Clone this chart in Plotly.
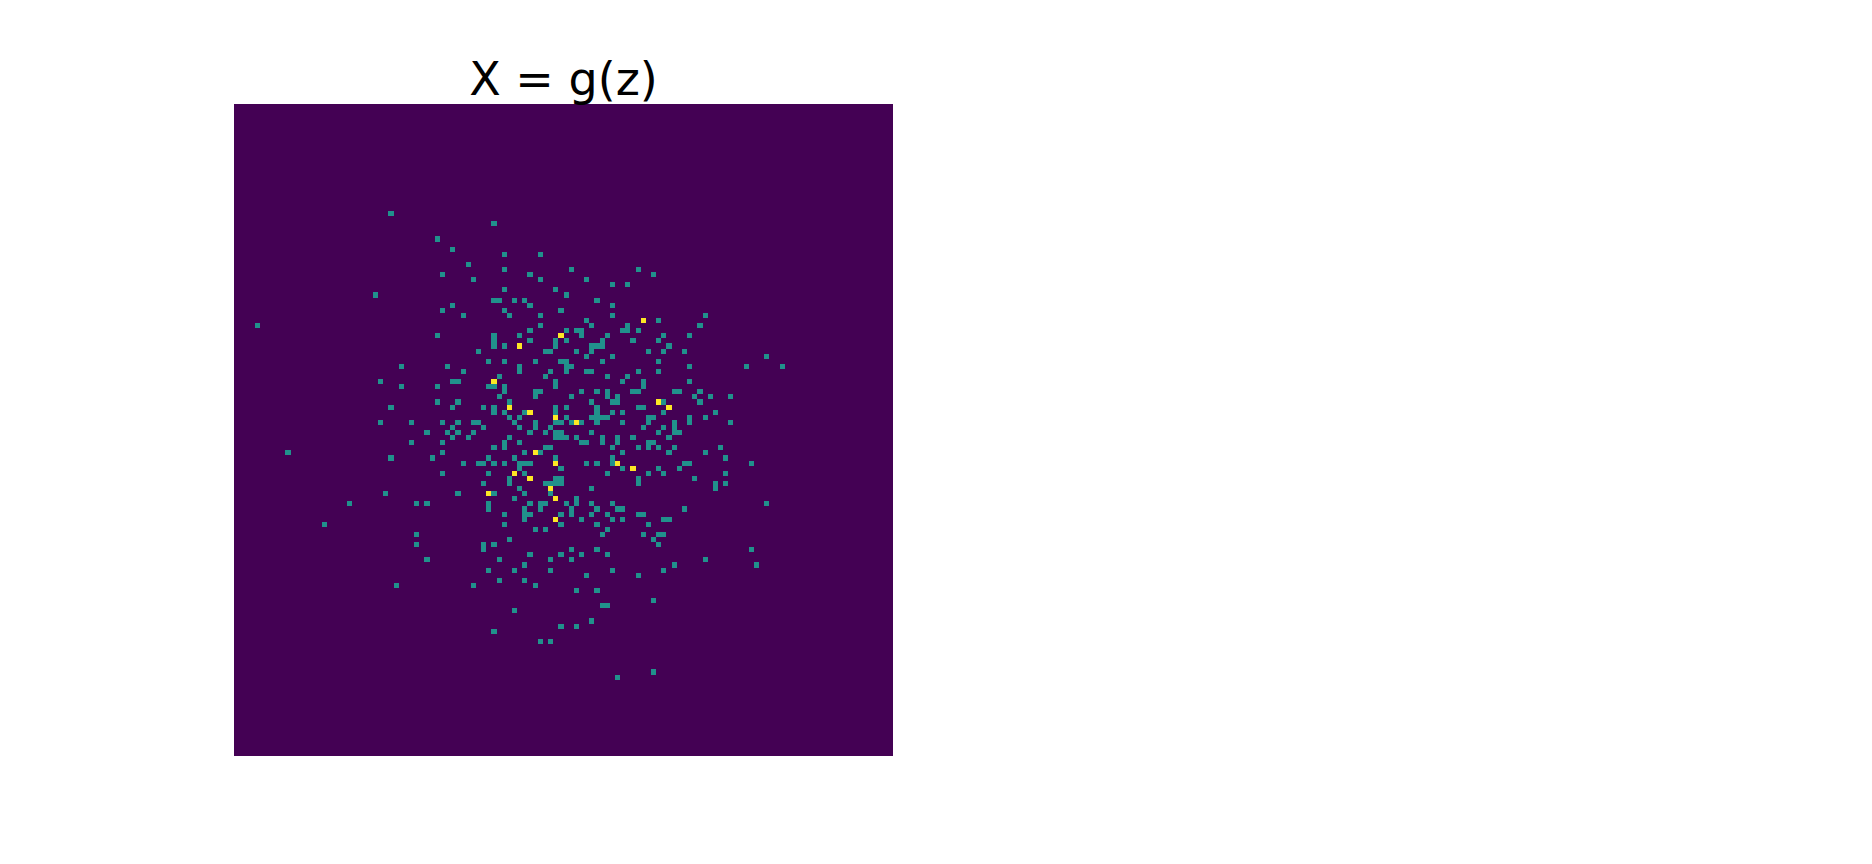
import plotly.graph_objects as go

GRID_SIZE = 128
TITLE = "X = g(z)"

# row index -> columns holding the value 1
cells_value_one = {
    21: [30], 23: [50], 26: [39], 28: [42], 29: [52, 59], 31: [45],
    32: [52, 65, 78], 33: [40, 57, 81], 34: [46, 59, 68], 35: [73, 76],
    36: [52, 62], 37: [27, 64], 38: [50, 51, 54, 56, 70], 39: [42, 57, 73],
    40: [40, 52, 63], 41: [44, 53, 59, 73, 91], 42: [68, 82],
    43: [4, 59, 69, 76, 90], 44: [57, 64, 66, 67, 75, 76, 78],
    45: [39, 50, 55, 67, 72, 83, 88], 46: [50, 57, 62, 64, 71, 77, 82],
    47: [50, 52, 62, 69, 70, 71, 84], 48: [47, 60, 61, 66, 69, 80, 83, 87],
    49: [68, 73, 103], 50: [49, 52, 58, 63, 64, 71, 82],
    51: [32, 41, 55, 64, 65, 88, 99, 106], 52: [44, 55, 61, 64, 68, 69, 78, 82],
    53: [51, 60, 72, 76], 54: [28, 42, 43, 62, 75, 79, 88],
    55: [32, 39, 49, 50, 52, 62, 79],
    56: [52, 58, 59, 67, 70, 72, 77, 78, 85, 86, 90],
    57: [51, 58, 65, 72, 74, 89, 92, 96], 58: [39, 43, 53, 69, 73, 74, 83, 90],
    59: [30, 42, 48, 50, 62, 64, 70, 78, 79],
    60: [50, 52, 56, 62, 70, 73, 75, 83, 93],
    61: [53, 55, 64, 69, 70, 71, 72, 80, 81, 88, 91],
    62: [28, 34, 40, 43, 46, 47, 54, 58, 62, 63, 65, 67, 70, 75, 80, 85, 88, 96],
    63: [42, 48, 55, 58, 61, 79, 83, 85],
    64: [37, 41, 43, 46, 57, 60, 62, 63, 69, 82, 85, 86],
    65: [42, 45, 53, 62, 63, 64, 66, 71, 74, 77, 84],
    66: [34, 40, 52, 55, 67, 68, 71, 74, 80, 81],
    67: [50, 52, 60, 61, 73, 78, 80, 82, 85, 94],
    68: [10, 40, 56, 59, 75, 84, 91], 69: [30, 38, 49, 54, 62, 73, 95],
    70: [44, 47, 48, 50, 52, 55, 56, 57, 68, 70, 73, 87, 88, 100],
    71: [55, 63, 75, 82, 86], 72: [40, 49, 56, 72, 80, 83, 95],
    73: [53, 62, 63, 78, 89], 74: [48, 53, 60, 61, 62, 63, 78, 93, 95],
    75: [55, 69, 93], 76: [29, 43, 50, 56, 61], 77: [54, 66],
    78: [22, 35, 37, 49, 57, 59, 60, 64, 66, 69, 73, 103],
    79: [49, 56, 59, 65, 70, 74, 75, 87],
    80: [52, 56, 57, 63, 65, 69, 72, 78, 79], 81: [56, 67, 73, 75, 83, 84],
    82: [17, 52, 63, 70, 80], 83: [58, 60, 72], 84: [35, 71, 79, 82, 83],
    85: [53, 81], 86: [35, 48, 50, 82], 87: [48, 65, 70, 100],
    88: [57, 63, 67, 72], 89: [37, 51, 61, 65, 91], 90: [56, 85, 101],
    91: [49, 54, 61, 73, 83], 92: [68, 78], 93: [51, 56], 94: [31, 46, 58],
    95: [66, 70], 97: [81], 98: [71, 72], 99: [54], 101: [69], 102: [63, 66],
    103: [50], 105: [59, 61], 111: [81], 112: [74],
}

# row index -> columns holding the value 2
cells_value_two = {
    42: [79], 45: [63], 47: [55], 54: [50], 58: [82], 59: [53, 84], 60: [57],
    61: [62], 62: [66], 68: [58], 70: [62, 74], 71: [77], 72: [54], 73: [57],
    75: [61], 76: [49], 77: [62], 81: [62],
}

z = [[0] * GRID_SIZE for _ in range(GRID_SIZE)]
for value, cells in ((1, cells_value_one), (2, cells_value_two)):
    for row, cols in cells.items():
        for col in cols:
            z[row][col] = value

fig = go.Figure(
    go.Heatmap(
        z=z,
        zmin=0,
        zmax=2,
        colorscale=[[0, "#440154"], [0.5, "#21918c"], [1, "#fde725"]],
        showscale=False,
        xgap=0,
        ygap=0,
    )
)

fig.update_layout(
    width=1856,
    height=848,
    margin=dict(l=226, r=971, t=96, b=100),
    paper_bgcolor="white",
    plot_bgcolor="white",
    title=dict(
        text=TITLE,
        x=0.5,
        xref="paper",
        xanchor="center",
        y=1,
        yref="paper",
        yanchor="bottom",
        pad=dict(b=9),
        font=dict(family="DejaVu Sans", size=46, color="black"),
    ),
)
fig.update_xaxes(visible=False, range=[-0.5, GRID_SIZE - 0.5], constrain="domain")
fig.update_yaxes(visible=False, range=[GRID_SIZE - 0.5, -0.5], constrain="domain")

fig.write_html("out.html")
